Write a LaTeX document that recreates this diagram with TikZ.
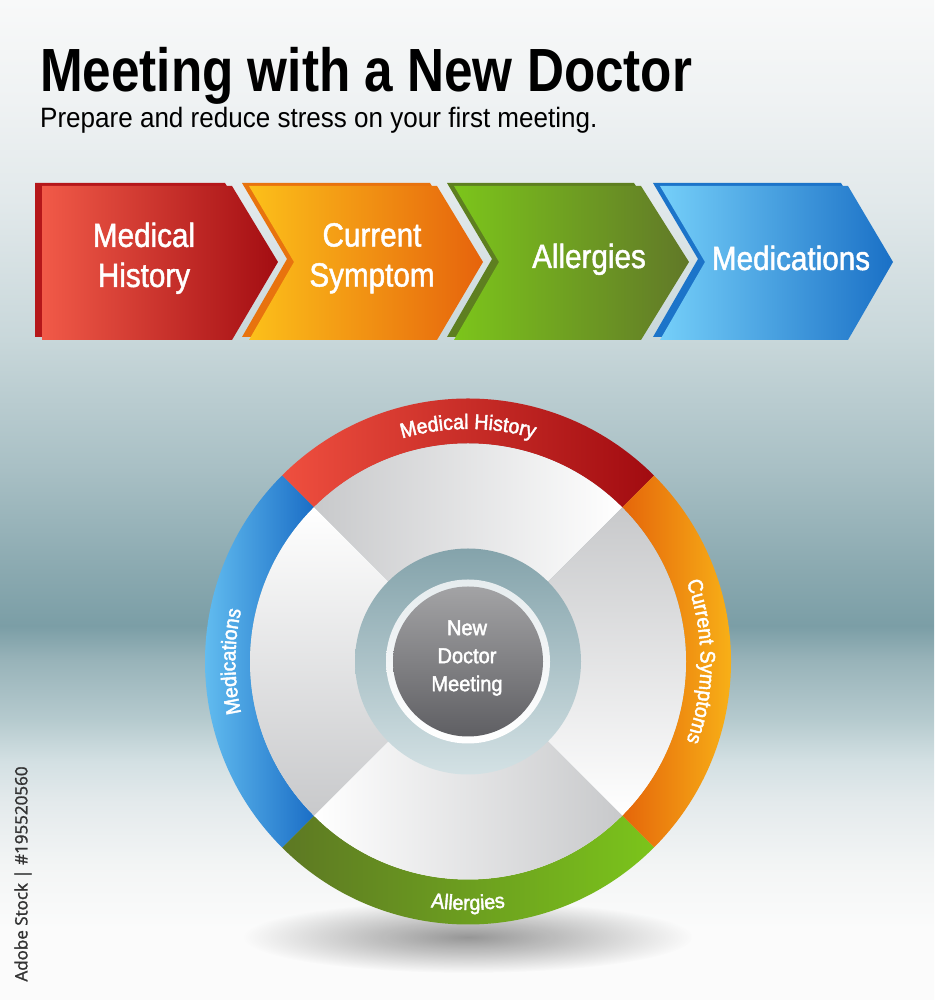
\documentclass[tikz,border=0pt]{standalone}
\usepackage{fontspec}
\setmainfont{Liberation Sans}
\newfontfamily\titlefont{Liberation Sans}[FakeStretch=0.84]
\newfontfamily\subfont{Liberation Sans}[FakeStretch=0.93]
\newfontfamily\chevfont{Liberation Sans}[FakeStretch=0.885,FakeBold=1.4]
\newfontfamily\ringfont{Liberation Sans}[FakeStretch=0.93,FakeBold=2]
\newfontfamily\idfont{Open Sans}[FakeBold=1.5]
\usetikzlibrary{decorations.text,fadings}

% background colours
\definecolor{bgA}{HTML}{FBFBFB}
\definecolor{bgB}{HTML}{F3F5F5}
\definecolor{bgC}{HTML}{E4EAEC}
\definecolor{bgD}{HTML}{D3E0E3}
\definecolor{bgE}{HTML}{B5CACE}
\definecolor{bgF}{HTML}{98B3B9}
\definecolor{bgG}{HTML}{7B9EA6}
\definecolor{bgH}{HTML}{8AA9B0}
\definecolor{bgI}{HTML}{A9C0C5}
\definecolor{bgJ}{HTML}{C8D7DA}
\definecolor{bgK}{HTML}{E2E9EB}
\definecolor{bgL}{HTML}{EFF2F3}
\definecolor{bgM}{HTML}{F8F9F9}
\pgfdeclareverticalshading{bgshade}{100bp}{color(0bp)=(bgA); color(25bp)=(bgA); color(28.55bp)=(bgA); color(31.7bp)=(bgB); color(34.85bp)=(bgC); color(36.95bp)=(bgD); color(39.05bp)=(bgE); color(42bp)=(bgF); color(43.7bp)=(bgG); color(46.45bp)=(bgH); color(51.7bp)=(bgI); color(58bp)=(bgJ); color(65bp)=(bgK); color(70bp)=(bgL); color(75bp)=(bgM); color(100bp)=(bgM)}
\tikzfading[name=softfade, inner color=transparent!0, outer color=transparent!100]

% chevron colours
\definecolor{redL}{HTML}{F15A48}\definecolor{redR}{HTML}{A30D12}\definecolor{redB}{HTML}{B5171A}
\definecolor{orL}{HTML}{FCC01A}\definecolor{orR}{HTML}{E6630C}\definecolor{orB}{HTML}{E8730E}
\definecolor{grL}{HTML}{7CC51B}\definecolor{grR}{HTML}{617828}\definecolor{grB}{HTML}{5E7F20}
\definecolor{blL}{HTML}{75CFF9}\definecolor{blR}{HTML}{1A70C6}\definecolor{blB}{HTML}{1C74C9}
% ring colours
\definecolor{mhL}{HTML}{EF4F3F}\definecolor{mhR}{HTML}{A10B10}
\definecolor{csL}{HTML}{E5660A}\definecolor{csR}{HTML}{FCC11A}
\definecolor{alL}{HTML}{5D7823}\definecolor{alR}{HTML}{7BC41B}
\definecolor{mdL}{HTML}{72CEF9}\definecolor{mdR}{HTML}{1B6EC6}
\definecolor{pinGray}{HTML}{C8C9CB}
\definecolor{tealT}{HTML}{84A3AB}\definecolor{tealB}{HTML}{D3E1E4}
\definecolor{wrT}{HTML}{E6ECEE}
\definecolor{gdT}{HTML}{A3A3A5}\definecolor{gdB}{HTML}{5F5F63}
\definecolor{idgray}{HTML}{333333}

\newcommand\annseg[5]{\shade[#5] ([shift={(#1:#3)}]c) arc[start angle=#1,end angle=#2,radius=#3] -- ([shift={(#2:#4)}]c) arc[start angle=#2,end angle=#1,radius=#4] -- cycle;}
\newcommand\ringstyle{\ringfont\fontsize{21}{24}\selectfont\color{white}}

\tikzset{
  chevtext/.style={text=white, inner sep=0pt, align=center, font=\chevfont\fontsize{33.5}{40}\selectfont},
  ringtext/.style={decorate, decoration={text along path, text align=center, text={|\ringstyle|#1}}}
}

\begin{document}
\begin{tikzpicture}[x=1pt,y=1pt]
\useasboundingbox (0,0) rectangle (934,1000);
\shade[shading=bgshade] (0,0) rectangle (934,1000);

% title
\node[anchor=base west, inner sep=0pt, font=\titlefont\bfseries\fontsize{61}{61}\selectfont] (title) at (40,908) {Meeting with a New Doctor};
\node[anchor=base west, inner sep=0pt, font=\subfont\fontsize{28}{28}\selectfont] (subtitle) at (40,872) {Prepare and reduce stress on your first meeting.};

% chevrons: back (bevel) then face
\fill[redB] (35,817) -- (225,817) -- (271,741) -- (225,663) -- (35,663) -- cycle;
\shade[left color=redL, right color=redR] (42,814) -- (232,814) -- (278,738) -- (232,660) -- (42,660) -- cycle;

\fill[orB] (242,817) -- (430,817) -- (476,741) -- (430,663) -- (242,663) -- (287,741) -- cycle;
\shade[left color=orL, right color=orR] (249,814) -- (437,814) -- (483,738) -- (437,660) -- (249,660) -- (294,738) -- cycle;

\fill[grB] (447,817) -- (634,817) -- (682,741) -- (634,663) -- (447,663) -- (492,741) -- cycle;
\shade[left color=grL, right color=grR] (454,814) -- (641,814) -- (689,738) -- (641,660) -- (454,660) -- (499,738) -- cycle;

\fill[blB] (653,817) -- (841,817) -- (886,741) -- (841,663) -- (653,663) -- (698,741) -- cycle;
\shade[left color=blL, right color=blR] (660,814) -- (848,814) -- (893,738) -- (848,660) -- (660,660) -- (705,738) -- cycle;

\node[chevtext] (ch1) at (144,741.7) {Medical\\History};
\node[chevtext] (ch2) at (372,741.7) {Current\\Symptom};
\node[chevtext, anchor=base] (ch3) at (589,732) {Allergies};
\node[chevtext, anchor=base] (ch4) at (791,730) {Medications};

% wheel
\coordinate (c) at (468,338.5);
\fill[black, opacity=0.4, path fading=softfade] (468,63) ellipse [x radius=225, y radius=36];

\annseg{45}{135}{263}{218}{left color=mhL, right color=mhR}
\annseg{-45}{45}{263}{218}{left color=csL, right color=csR}
\annseg{225}{315}{263}{218}{left color=alL, right color=alR}
\annseg{135}{225}{263}{218}{left color=mdL, right color=mdR}

\annseg{45}{135}{218}{112}{left color=pinGray, right color=white}
\annseg{-45}{45}{218}{112}{top color=pinGray, bottom color=white}
\annseg{225}{315}{218}{112}{left color=white, right color=pinGray}
\annseg{135}{225}{218}{112}{top color=white, bottom color=pinGray}

\shade[top color=tealT, bottom color=tealB] (c) circle[radius=113];
\shade[top color=wrT, bottom color=white] (c) circle[radius=82];
\shade[top color=gdT, bottom color=gdB] (c) circle[radius=75];
\node[align=center, text=white, inner sep=0pt, font=\ringfont\fontsize{21.5}{28}\selectfont] (centre) at (467,342) {New\\Doctor\\Meeting};

% ring labels
\path[ringtext={Medical History}] ([shift={(150:232.5)}]c) arc[start angle=150, end angle=30, radius=232.5];
\path[ringtext={Current Symptoms}] ([shift={(60:232.5)}]c) arc[start angle=60, end angle=-60, radius=232.5];
\path[ringtext={Allergies}] ([shift={(210:248.5)}]c) arc[start angle=210, end angle=330, radius=248.5];
\path[ringtext={Medications}] ([shift={(240:232.5)}]c) arc[start angle=240, end angle=120, radius=232.5];

% stock id
\node[rotate=90, inner sep=0pt, text=idgray, font=\idfont\fontsize{17}{17}\selectfont] (stockid) at (23,126) {Adobe Stock | \#195520560};
\end{tikzpicture}
\end{document}
